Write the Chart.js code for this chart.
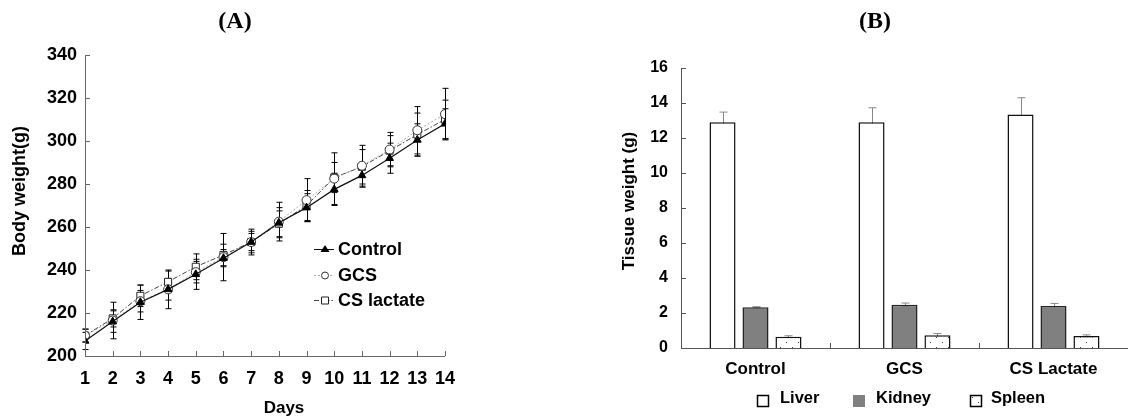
<!DOCTYPE html>
<html>
<head>
<meta charset="utf-8">
<script src="https://cdn.jsdelivr.net/npm/chart.js@4.4.1/dist/chart.umd.min.js"></script>
<style>
  html, body { margin: 0; padding: 0; background: #fff; }
  #wrapA { position: absolute; left: 0; top: 0; width: 580px; height: 419px; }
  #wrapB { position: absolute; left: 580px; top: 0; width: 557px; height: 419px; }
</style>
</head>
<body>
<div id="wrapA"><canvas id="bodyWeight"></canvas></div>
<div id="wrapB"><canvas id="tissueWeight"></canvas></div>
<script>
// ---- panel A data (body weight, g) ----
const days = [1, 2, 3, 4, 5, 6, 7, 8, 9, 10, 11, 12, 13, 14];
const control   = [207, 216, 225, 231, 238, 245.5, 253, 262, 269, 277.5, 284, 292, 300.5, 308];
const gcs       = [209.5, 216.5, 225.5, 231, 239, 246, 253, 262.5, 272.5, 282.5, 288.5, 296, 305, 312.5];
const csLactate = [209.5, 217.5, 228, 234.5, 241.5, 247, 253, 261.5, 270, 283, 288, 295.5, 303, 310];
const controlErr = [4, 5, 8, 5, 7, 4, 6, 7, 6.5, 7.5, 5.5, 7, 7.5, 7];
const gcsErr     = [3, 8.5, 5, 9, 5, 11, 4, 9, 10, 12, 9.5, 8, 11, 12];
const csErr      = [3, 4, 5, 5, 6, 5, 5, 6, 7, 7, 8, 7, 10, 9];

// ---- panel B data (tissue weight, g) ----
const groups = ['Control', 'GCS', 'CS Lactate'];
const liver  = [12.9, 12.9, 13.35];
const kidney = [2.33, 2.47, 2.4];
const spleen = [0.65, 0.73, 0.68];
const liverErr  = [0.58, 0.83, 0.95];
const kidneyErr = [0.03, 0.1, 0.15];
const spleenErr = [0.05, 0.1, 0.07];

Chart.defaults.font.family = "'Liberation Sans', Arial, sans-serif";
Chart.defaults.font.weight = 'bold';
Chart.defaults.color = '#000';
Chart.defaults.animation = false;

function toXY(ys) {
    return ys.map((y, i) => ({x: days[i], y: y}));
}

// error bars drawn through the chart scales
const errorBars = {
    id: 'errorBars',
    beforeDatasetsDraw(chart, args, opts) {
        const ctx = chart.ctx;
        const yScale = chart.scales.y;
        chart.data.datasets.forEach((ds, di) => {
            if (!ds.errors) return;
            const meta = chart.getDatasetMeta(di);
            ctx.save();
            ctx.strokeStyle = opts.color || '#000';
            ctx.lineWidth = 1;
            meta.data.forEach((el, i) => {
                const v = ds.data[i].y !== undefined ? ds.data[i].y : ds.data[i];
                const top = yScale.getPixelForValue(v + ds.errors[i]);
                const bot = yScale.getPixelForValue(v - ds.errors[i]);
                const cap = opts.cap || 3;
                const x = Math.round(el.x) + 0.5;
                ctx.beginPath();
                ctx.moveTo(x, top); ctx.lineTo(x, bot);
                ctx.moveTo(x - cap, top); ctx.lineTo(x + cap, top);
                ctx.moveTo(x - cap, bot); ctx.lineTo(x + cap, bot);
                ctx.stroke();
            });
            ctx.restore();
        });
    }
};

// axes with inward tick marks
const axesDraw = {
    id: 'axesDraw',
    afterDraw(chart, args, opts) {
        const ctx = chart.ctx;
        const area = chart.chartArea;
        const xs = chart.scales.x, ys = chart.scales.y;
        ctx.save();
        ctx.strokeStyle = opts.color || '#777';
        ctx.lineWidth = 1;
        ctx.beginPath();
        ctx.moveTo(area.left + 0.5, area.top);
        ctx.lineTo(area.left + 0.5, area.bottom + 0.5);
        ctx.lineTo(area.right, area.bottom + 0.5);
        ys.ticks.forEach(t => {
            const py = Math.round(ys.getPixelForValue(t.value)) + 0.5;
            ctx.moveTo(area.left, py); ctx.lineTo(area.left + 5, py);
        });
        if (opts.categoryTicks) {
            const w = (area.right - area.left) / chart.data.labels.length;
            for (let i = 1; i < chart.data.labels.length; i++) {
                const px = Math.round(area.left + i * w) + 0.5;
                ctx.moveTo(px, area.bottom); ctx.lineTo(px, area.bottom - 5);
            }
        } else {
            xs.ticks.forEach(t => {
                const px = Math.round(xs.getPixelForValue(t.value)) + 0.5;
                ctx.moveTo(px, area.bottom); ctx.lineTo(px, area.bottom - 5);
            });
        }
        ctx.stroke();
        ctx.restore();
    }
};

// free text: panel titles and axis titles
const labelsDraw = {
    id: 'labelsDraw',
    afterDraw(chart, args, opts) {
        const ctx = chart.ctx;
        ctx.save();
        ctx.fillStyle = '#000';
        ctx.textAlign = 'center';
        ctx.textBaseline = 'middle';
        ctx.font = "bold 24px 'Liberation Serif', 'Times New Roman', serif";
        ctx.fillText(opts.panel, opts.panelX, 22);
        ctx.font = "bold 17px 'Liberation Sans', Arial, sans-serif";
        if (opts.xTitle) ctx.fillText(opts.xTitle, opts.xTitleX, opts.xTitleY);
        ctx.font = "bold " + opts.yTitleSize + "px 'Liberation Sans', Arial, sans-serif";
        ctx.translate(opts.yTitleX, opts.yTitleY);
        ctx.rotate(-Math.PI / 2);
        ctx.fillText(opts.yTitle, 0, 0);
        ctx.restore();
    }
};

// legend for panel A, in the plot area
const lineLegend = {
    id: 'lineLegend',
    afterDraw(chart) {
        const ctx = chart.ctx;
        const rows = [249, 275, 300];
        chart.data.datasets.forEach((ds, i) => {
            const y = rows[i];
            ctx.save();
            ctx.strokeStyle = ds.borderColor;
            ctx.lineWidth = 1;
            ctx.setLineDash(ds.borderDash || []);
            ctx.beginPath();
            ctx.moveTo(314, y + 0.5); ctx.lineTo(334, y + 0.5);
            ctx.stroke();
            ctx.setLineDash([]);
            ctx.fillStyle = ds.pointBackgroundColor;
            ctx.strokeStyle = ds.pointBorderColor;
            ctx.beginPath();
            if (ds.pointStyle === 'triangle') {
                ctx.moveTo(325, y - 4); ctx.lineTo(329.5, y + 3); ctx.lineTo(320.5, y + 3);
                ctx.closePath(); ctx.fill();
            } else if (ds.pointStyle === 'circle') {
                ctx.arc(325, y + 0.5, 3.5, 0, Math.PI * 2); ctx.fill(); ctx.stroke();
            } else {
                ctx.rect(321.5, y - 3, 7, 7); ctx.fill(); ctx.stroke();
            }
            ctx.fillStyle = '#000';
            ctx.font = "bold 18px 'Liberation Sans', Arial, sans-serif";
            ctx.textBaseline = 'middle';
            ctx.textAlign = 'left';
            ctx.fillText(ds.label, 338, y + 1);
            ctx.restore();
        });
    }
};

// legend for panel B, under the axis
const barLegend = {
    id: 'barLegend',
    afterDraw(chart) {
        const ctx = chart.ctx;
        const boxX = [757 - 580, 853 - 580, 970 - 580];
        const textX = [780 - 580, 876 - 580, 991 - 580];
        chart.data.datasets.forEach((ds, i) => {
            ctx.save();
            ctx.fillStyle = ds.backgroundColor;
            ctx.fillRect(boxX[i], 395, 12, 12);
            if (i !== 1) {
                ctx.strokeStyle = '#000';
                ctx.lineWidth = 1.5;
                ctx.strokeRect(boxX[i] + 0.5, 395.5, 11, 11);
            }
            ctx.fillStyle = '#000';
            ctx.font = "bold 16.5px 'Liberation Sans', Arial, sans-serif";
            ctx.textBaseline = 'middle';
            ctx.fillText(ds.label, textX[i], 398);
            ctx.restore();
        });
    }
};

// dotted fill for spleen bars
function dotPattern() {
    const c = document.createElement('canvas');
    c.width = 12; c.height = 10;
    const g = c.getContext('2d');
    g.fillStyle = '#fff';
    g.fillRect(0, 0, 12, 10);
    g.fillStyle = '#444';
    g.fillRect(2, 2, 1, 1);
    g.fillRect(8, 7, 1, 1);
    return g.createPattern(c, 'repeat');
}

new Chart(document.getElementById('bodyWeight'), {
    type: 'line',
    data: {
        datasets: [{
            label: 'Control',
            data: toXY(control),
            errors: controlErr,
            borderColor: '#111',
            borderWidth: 1.2,
            pointStyle: 'triangle',
            pointRadius: 4.5,
            pointBackgroundColor: '#000',
            pointBorderColor: '#000',
            pointBorderWidth: 1
        }, {
            label: 'GCS',
            data: toXY(gcs),
            errors: gcsErr,
            borderColor: '#aaa',
            borderWidth: 1,
            borderDash: [2, 2],
            pointStyle: 'circle',
            pointRadius: 4.5,
            pointBackgroundColor: '#fff',
            pointBorderColor: '#333',
            pointBorderWidth: 1
        }, {
            label: 'CS lactate',
            data: toXY(csLactate),
            errors: csErr,
            borderColor: '#444',
            borderWidth: 1,
            borderDash: [5, 2, 1.5, 2],
            pointStyle: 'rect',
            pointRadius: 5,
            pointBackgroundColor: '#fff',
            pointBorderColor: '#222',
            pointBorderWidth: 1
        }]
    },
    options: {
        responsive: true,
        maintainAspectRatio: false,
        layout: { padding: { left: 0, top: 55, right: 135, bottom: 0 } },
        scales: {
            x: {
                type: 'linear', min: 1, max: 14,
                grid: { display: false, drawTicks: false },
                border: { display: false },
                ticks: { stepSize: 1, padding: 12, font: { size: 18, weight: 'bold' }, color: '#000' },
                afterFit(s) { s.height = 63; }
            },
            y: {
                min: 200, max: 340,
                grid: { display: false, drawTicks: false },
                border: { display: false },
                ticks: { stepSize: 20, padding: 8, font: { size: 18, weight: 'bold' }, color: '#000' },
                afterFit(s) { s.width = 85; }
            }
        },
        plugins: {
            legend: { display: false },
            tooltip: { enabled: false },
            errorBars: { color: '#000', cap: 3 },
            axesDraw: { color: '#666' },
            labelsDraw: {
                panel: '(A)', panelX: 235,
                xTitle: 'Days', xTitleX: 284, xTitleY: 408,
                yTitle: 'Body weight(g)', yTitleSize: 18, yTitleX: 20, yTitleY: 191
            }
        }
    },
    plugins: [errorBars, axesDraw, labelsDraw, lineLegend]
});

new Chart(document.getElementById('tissueWeight'), {
    type: 'bar',
    data: {
        labels: groups,
        datasets: [{
            label: 'Liver', data: liver, errors: liverErr,
            backgroundColor: '#fff', borderColor: '#111', borderWidth: 1.5
        }, {
            label: 'Kidney', data: kidney, errors: kidneyErr,
            backgroundColor: '#808080', borderColor: '#222', borderWidth: 1.5
        }, {
            label: 'Spleen', data: spleen, errors: spleenErr,
            backgroundColor: dotPattern(), borderColor: '#111', borderWidth: 1.5
        }]
    },
    options: {
        responsive: true,
        maintainAspectRatio: false,
        categoryPercentage: 0.664,
        barPercentage: 0.79,
        layout: { padding: { left: 0, top: 68, right: 9, bottom: 0 } },
        scales: {
            x: {
                grid: { display: false, drawTicks: false },
                border: { display: false },
                ticks: { padding: 11, font: { size: 17, weight: 'bold' }, color: '#000' },
                afterFit(s) { s.height = 71; }
            },
            y: {
                min: 0, max: 16,
                grid: { display: false, drawTicks: false },
                border: { display: false },
                ticks: { stepSize: 2, padding: 13, font: { size: 16, weight: 'bold' }, color: '#000' },
                afterFit(s) { s.width = 101; }
            }
        },
        plugins: {
            legend: { display: false },
            tooltip: { enabled: false },
            errorBars: { color: '#888', cap: 4 },
            axesDraw: { color: '#555', categoryTicks: true },
            labelsDraw: {
                panel: '(B)', panelX: 875 - 580,
                yTitle: 'Tissue weight (g)', yTitleSize: 17, yTitleX: 629 - 580, yTitleY: 201
            }
        }
    },
    plugins: [errorBars, axesDraw, labelsDraw, barLegend]
});
</script>
</body>
</html>
